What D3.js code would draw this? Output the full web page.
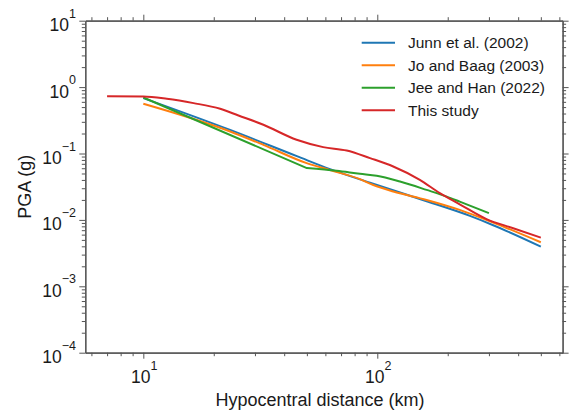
<!DOCTYPE html>
<html>
<head>
<meta charset="utf-8">
<script src="https://cdn.jsdelivr.net/npm/d3@7"></script>
<style>
  html, body { margin: 0; padding: 0; background: #fff; }
  svg { display: block; font-family: "Liberation Sans", Arial, sans-serif; }
</style>
</head>
<body>
<svg id="chart" width="573" height="412"></svg>
<script>
// ---- data ----
const seriesNames = ["Junn et al. (2002)", "Jo and Baag (2003)", "Jee and Han (2022)", "This study"];
const seriesColors = ["#1f77b4", "#ff7f0e", "#2ca02c", "#d62728"];

const junnX = [10, 23.5, 45.3, 62.8, 93.1, 162.5, 249, 313, 500];
const junnY = [0.684, 0.2265, 0.0912, 0.0582, 0.0363, 0.0191, 0.01148, 0.00832, 0.00396];

const joX = [10, 23.5, 32.6, 49.9, 62.8, 84.3, 96.2, 117, 162.5, 225, 313, 500];
const joY = [0.561, 0.2145, 0.135, 0.0716, 0.0562, 0.0411, 0.0335, 0.0268, 0.0200, 0.01416, 0.00912, 0.00461];

const jeeX = [10, 50, 67.1, 84.3, 99.4, 125, 162.5, 198, 225, 300];
const jeeY = [0.698, 0.0603, 0.0548, 0.0494, 0.0462, 0.0378, 0.0283, 0.02246, 0.01888, 0.01262];

const studyX = [7, 10, 12.6, 16.4, 21.3, 25.5, 32.6, 45.2, 58.7, 74, 93.1, 117, 152, 185, 225, 293, 381, 500];
const studyY = [0.73, 0.723, 0.667, 0.574, 0.472, 0.3736, 0.2706, 0.1608, 0.1248, 0.111, 0.0852, 0.0637, 0.0401, 0.0253, 0.0172, 0.0103, 0.0075, 0.0054];

const yTickExponents = [1, 0, -1, -2, -3, -4];
const xTickExponents = [1, 2];
const xLabel = "Hypocentral distance (km)";
const yLabel = "PGA (g)";

// ---- layout ----
const svg = d3.select("#chart");
const L = 85.3, R = 562.6, T = 20.7, B = 352.7;
const axisColor = "#555";
const textColor = "#1a1a1a";

const x = d3.scaleLog().domain([Math.pow(10, 0.752), Math.pow(10, 2.792)]).range([L, R]);
const y = d3.scaleLog().domain([1e-4, 10]).range([B, T]);

const seriesX = [junnX, joX, jeeX, studyX];
const seriesY = [junnY, joY, jeeY, studyY];
const seriesCurve = [d3.curveMonotoneX, d3.curveMonotoneX, null, d3.curveMonotoneX];

// ---- lines ----
const plot = svg.append("g");
seriesNames.forEach((name, i) => {
  const pts = seriesX[i].map((v, j) => [v, seriesY[i][j]]);
  let d;
  if (seriesCurve[i]) {
    d = d3.line().x(p => x(p[0])).y(p => y(p[1])).curve(seriesCurve[i])(pts);
  } else {
    // straight segment to the knee, smooth afterwards
    const head = d3.line().x(p => x(p[0])).y(p => y(p[1]))(pts.slice(0, 2));
    const tail = d3.line().x(p => x(p[0])).y(p => y(p[1])).curve(d3.curveMonotoneX)(pts.slice(1));
    d = head + tail.replace(/^M[^CLQ]*/, m => "L" + m.slice(1));
  }
  plot.append("path")
    .attr("d", d)
    .attr("fill", "none")
    .attr("stroke", seriesColors[i])
    .attr("stroke-width", 2)
    .attr("stroke-linejoin", "round");
});

// ---- axes ----
const xMajor = xTickExponents.map(e => Math.pow(10, e));
const xMinor = [];
[0, 1, 2].forEach(e => { for (let k = 2; k <= 9; k++) { const v = k * Math.pow(10, e); if (v >= x.domain()[0] && v <= x.domain()[1]) xMinor.push(v); } });
const yMajor = yTickExponents.map(e => Math.pow(10, e));
const yMinor = [];
[-4, -3, -2, -1, 0].forEach(e => { for (let k = 2; k <= 9; k++) yMinor.push(k * Math.pow(10, e)); });

function drawAxis(axisGen, transform) {
  const g = svg.append("g").attr("transform", transform).call(axisGen);
  g.selectAll("text").remove();
  g.select(".domain").attr("stroke", axisColor).attr("stroke-width", 1.2);
  g.selectAll("line").attr("stroke", axisColor).attr("stroke-width", 1);
  return g;
}
drawAxis(d3.axisBottom(x).tickValues(xMajor).tickSize(6).tickSizeOuter(0), `translate(0,${B})`);
drawAxis(d3.axisBottom(x).tickValues(xMinor).tickSize(3.5).tickSizeOuter(0), `translate(0,${B})`);
drawAxis(d3.axisTop(x).tickValues(xMajor).tickSize(6).tickSizeOuter(0), `translate(0,${T})`);
drawAxis(d3.axisTop(x).tickValues(xMinor).tickSize(3.5).tickSizeOuter(0), `translate(0,${T})`);
drawAxis(d3.axisLeft(y).tickValues(yMajor).tickSize(6).tickSizeOuter(0), `translate(${L},0)`);
drawAxis(d3.axisLeft(y).tickValues(yMinor).tickSize(3.5).tickSizeOuter(0), `translate(${L},0)`);
drawAxis(d3.axisRight(y).tickValues(yMajor).tickSize(6).tickSizeOuter(0), `translate(${R},0)`);
drawAxis(d3.axisRight(y).tickValues(yMinor).tickSize(3.5).tickSizeOuter(0), `translate(${R},0)`);

// ---- tick labels ----
const fsTick = 17.5, fsExp = 12.5;
function expText(e) { return e < 0 ? "\u2212" + Math.abs(e) : String(e); }

yTickExponents.forEach(e => {
  const t = svg.append("text")
    .attr("x", 76).attr("y", y(Math.pow(10, e)) + 10.5)
    .attr("text-anchor", "end").attr("fill", textColor)
    .attr("font-size", fsTick);
  t.append("tspan").text("10");
  t.append("tspan").attr("dy", -13.5).attr("font-size", fsExp).text(expText(e));
});
xTickExponents.forEach(e => {
  const t = svg.append("text")
    .attr("x", x(Math.pow(10, e)) + 1).attr("y", B + 30.6)
    .attr("text-anchor", "middle").attr("fill", textColor)
    .attr("font-size", fsTick);
  t.append("tspan").text("10");
  t.append("tspan").attr("dy", -13.5).attr("font-size", fsExp).text(expText(e));
});

// ---- axis labels ----
svg.append("text")
  .attr("x", 320).attr("y", 406)
  .attr("text-anchor", "middle").attr("fill", textColor)
  .attr("font-size", 18).text(xLabel);
svg.append("text")
  .attr("transform", `translate(31,${(T + B) / 2}) rotate(-90)`)
  .attr("text-anchor", "middle").attr("fill", textColor)
  .attr("font-size", 18).text(yLabel);

// ---- legend ----
const lg = svg.append("g");
seriesNames.forEach((name, i) => {
  const cy = 42.7 + i * 22.5;
  lg.append("line").attr("x1", 361.7).attr("x2", 395).attr("y1", cy).attr("y2", cy)
    .attr("stroke", seriesColors[i]).attr("stroke-width", 2);
  lg.append("text").attr("x", 408).attr("y", cy + 5.5)
    .attr("fill", textColor).attr("font-size", 15.5).text(name);
});
</script>
</body>
</html>
